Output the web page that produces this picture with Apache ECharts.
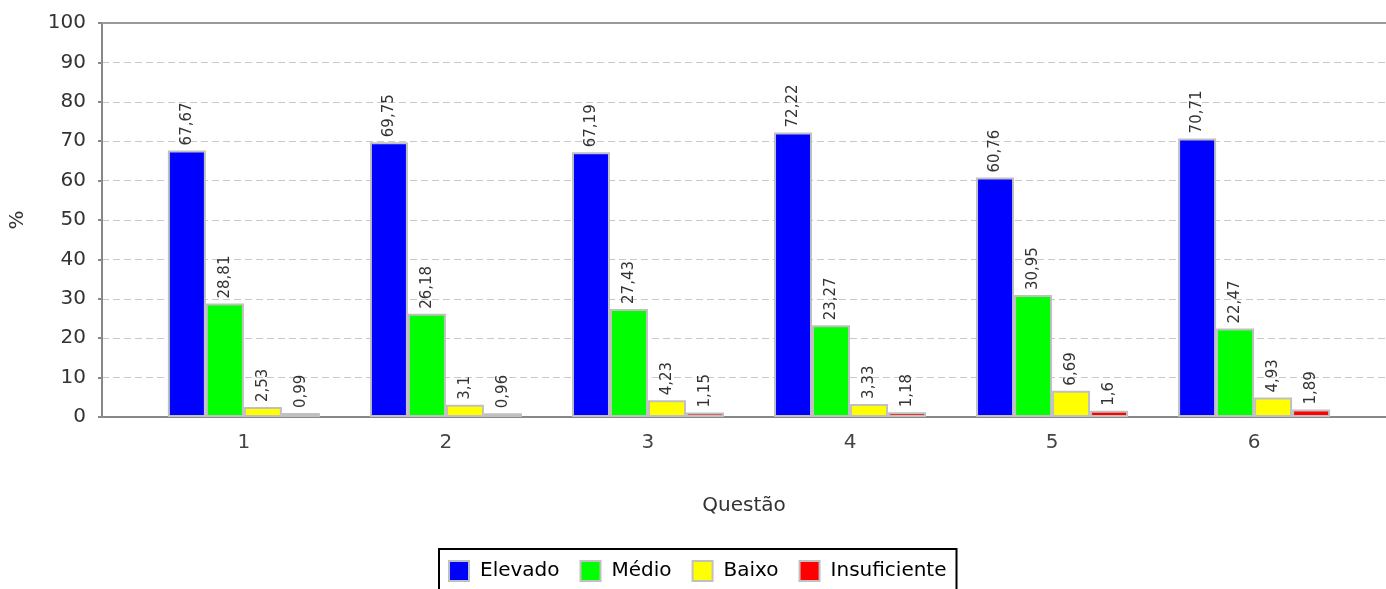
<!DOCTYPE html>
<html>
<head>
<meta charset="utf-8">
<script src="https://cdn.jsdelivr.net/npm/echarts@6/dist/echarts.min.js"></script>
<style>
  html, body { margin: 0; padding: 0; background: #fff; }
  #chart { width: 1386px; height: 589px; }
</style>
</head>
<body>
<div id="chart"></div>
<script>
  // dados
  const categories = ['1', '2', '3', '4', '5', '6'];
  const seriesNames = ['Elevado', 'Médio', 'Baixo', 'Insuficiente'];
  const elevado = [67.67, 69.75, 67.19, 72.22, 60.76, 70.71];
  const medio = [28.81, 26.18, 27.43, 23.27, 30.95, 22.47];
  const baixo = [2.53, 3.1, 4.23, 3.33, 6.69, 4.93];
  const insuficiente = [0.99, 0.96, 1.15, 1.18, 1.6, 1.89];
  const colors = ['#0000ff', '#00ff00', '#ffff00', '#ff0000'];

  const font = 'DejaVu Sans';
  const myChart = echarts.init(document.getElementById('chart'));

  function toPairs(values) {
    return values.map(function (v, i) { return [i + 1, v]; });
  }

  const allValues = [elevado, medio, baixo, insuficiente];
  const series = allValues.map(function (values, idx) {
    return {
      name: seriesNames[idx],
      type: 'bar',
      barWidth: 38,
      barGap: '0%',
      data: toPairs(values),
      itemStyle: {
        color: colors[idx],
        borderColor: '#c0c0c0',
        borderWidth: 2
      },
      label: {
        show: true,
        position: 'top',
        distance: 5,
        fontFamily: font,
        fontSize: 15,
        color: '#333',
        formatter: function (p) {
          return String(p.value[1]).replace('.', ',');
        }
      },
      labelLayout: {
        rotate: 90,
        align: 'left',
        verticalAlign: 'middle'
      }
    };
  });

  const xMin = 1 - 142 / 202.2;
  const xMax = 1 + 1143 / 202.2;

  const option = {
    animation: false,
    grid: { left: 101, right: 0, top: 23, bottom: 172 },
    legend: {
      data: seriesNames,
      left: 439,
      top: 549,
      width: 540,
      padding: [11, 10, 16, 9],
      borderColor: '#000',
      borderWidth: 2,
      itemWidth: 20,
      itemHeight: 20,
      itemGap: 20,
      icon: 'rect',
      itemStyle: { borderColor: '#c0c0c0', borderWidth: 2 },
      textStyle: { fontFamily: font, fontSize: 20, color: '#000', padding: [0, 0, 0, 6] }
    },
    xAxis: [{
      type: 'value',
      min: xMin,
      max: xMax,
      name: 'Questão',
      nameLocation: 'middle',
      nameGap: 79,
      nameTextStyle: { fontFamily: font, fontSize: 20, color: '#333' },
      axisLine: { show: true, lineStyle: { color: '#888', width: 2 } },
      axisTick: { show: false },
      splitLine: { show: false },
      axisLabel: {
        customValues: [1, 2, 3, 4, 5, 6],
        formatter: function (v) { return categories[Math.round(v) - 1]; },
        margin: 16,
        fontFamily: font,
        fontSize: 20,
        color: '#444'
      }
    }, {
      type: 'value',
      min: xMin,
      max: xMax,
      position: 'top',
      axisLine: { show: true, lineStyle: { color: '#999', width: 2 } },
      axisTick: { show: false },
      axisLabel: { show: false },
      splitLine: { show: false }
    }],
    yAxis: {
      type: 'value',
      min: 0,
      max: 100,
      interval: 10,
      name: '%',
      nameLocation: 'middle',
      nameGap: 74,
      nameTextStyle: { fontFamily: font, fontSize: 20, color: '#333' },
      axisLine: { show: true, lineStyle: { color: '#888', width: 2 } },
      axisTick: { show: true, length: 4, lineStyle: { color: '#888', width: 2 } },
      axisLabel: { margin: 16, fontFamily: font, fontSize: 20, color: '#333' },
      splitLine: { show: true, lineStyle: { color: '#c8c8c8', width: 1, type: [7, 4] } }
    },
    series: series
  };

  myChart.setOption(option);
</script>
</body>
</html>
